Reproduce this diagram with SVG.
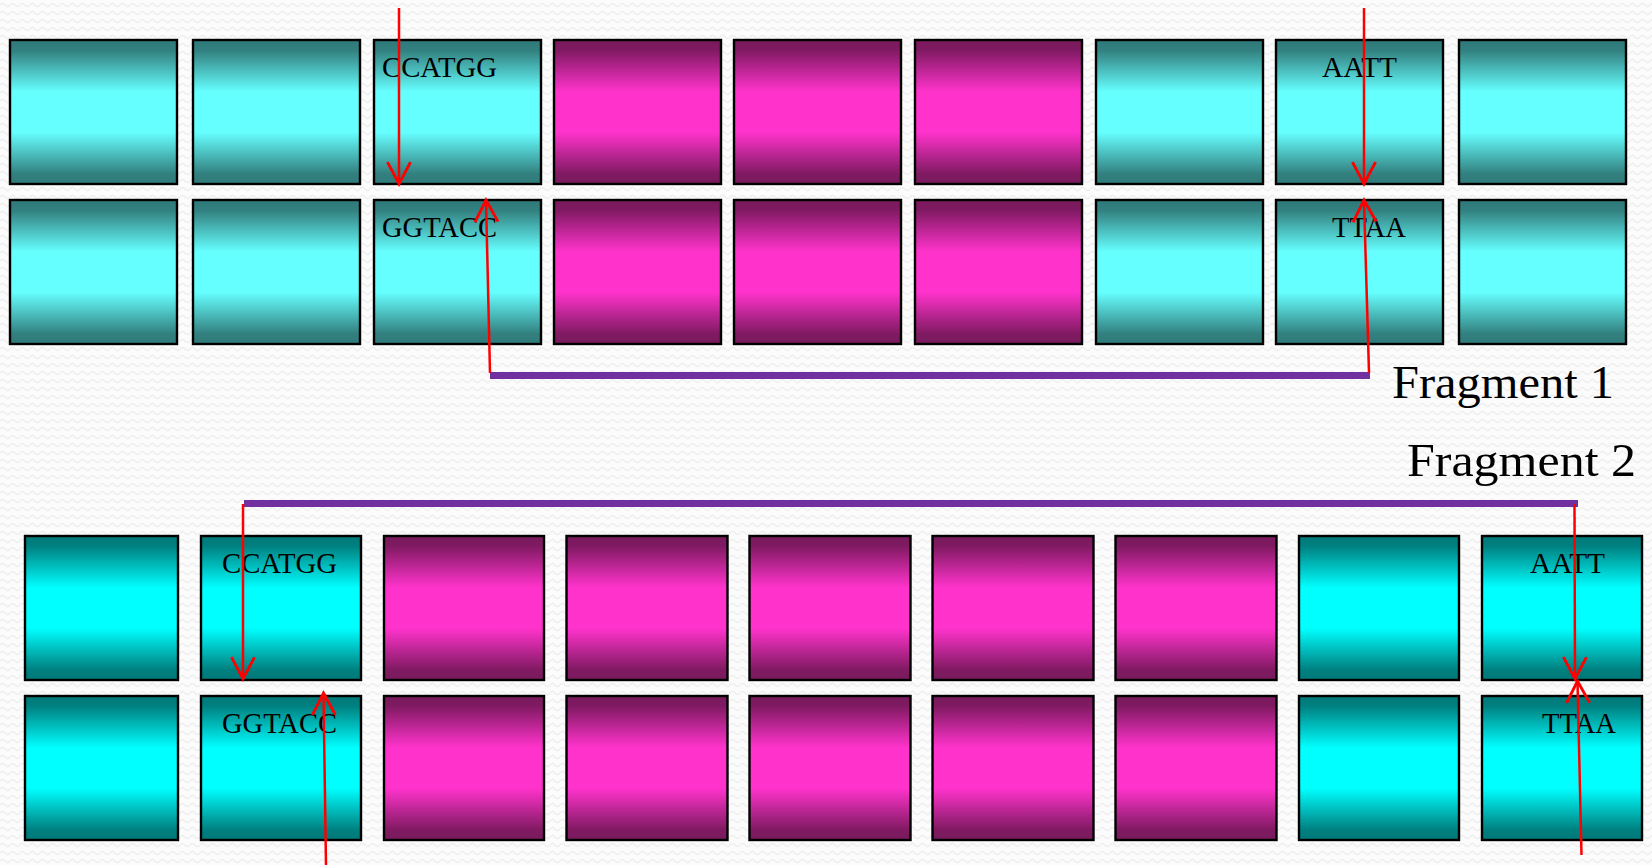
<svg xmlns="http://www.w3.org/2000/svg" width="1652" height="865" viewBox="0 0 1652 865">
<defs>
<pattern id="bgp" x="0" y="0" width="10" height="8" patternUnits="userSpaceOnUse">
<rect width="10" height="8" fill="#fcfcfc"/>
<path d="M0,5 Q2.5,2 5,5 T10,5" fill="none" stroke="#efefef" stroke-width="1.6"/>
</pattern>
<linearGradient id="gTealDark" x1="0" y1="0" x2="0" y2="1">
<stop offset="0" stop-color="#2f7a7a"/>
<stop offset="0.07" stop-color="#32807f"/>
<stop offset="0.36" stop-color="#66ffff"/>
<stop offset="0.64" stop-color="#66ffff"/>
<stop offset="0.93" stop-color="#32807f"/>
<stop offset="1" stop-color="#2f7a7a"/>
</linearGradient>
<linearGradient id="gTeal" x1="0" y1="0" x2="0" y2="1">
<stop offset="0" stop-color="#007878"/>
<stop offset="0.07" stop-color="#008080"/>
<stop offset="0.36" stop-color="#00ffff"/>
<stop offset="0.64" stop-color="#00ffff"/>
<stop offset="0.93" stop-color="#008080"/>
<stop offset="1" stop-color="#007878"/>
</linearGradient>
<linearGradient id="gMag" x1="0" y1="0" x2="0" y2="1">
<stop offset="0" stop-color="#781a5c"/>
<stop offset="0.07" stop-color="#801a62"/>
<stop offset="0.36" stop-color="#ff33cc"/>
<stop offset="0.64" stop-color="#ff33cc"/>
<stop offset="0.93" stop-color="#801a62"/>
<stop offset="1" stop-color="#781a5c"/>
</linearGradient>
<marker id="head" markerUnits="userSpaceOnUse" markerWidth="30" markerHeight="30" refX="0" refY="0" viewBox="-22 -13 26 26" orient="auto">
<path d="M-19,-10 L0,0 L-19,10" fill="none" stroke="#ff0000" stroke-width="2.5"/>
</marker>
<style>
.b{stroke:#000;stroke-width:2.4}
.td{fill:url(#gTealDark)}
.tl{fill:url(#gTeal)}
.mg{fill:url(#gMag)}
.seq{font-family:"Liberation Serif","Times New Roman",serif;font-size:29px;fill:#000}
.frag{font-family:"Liberation Serif","Times New Roman",serif;font-size:47px;fill:#000}
.arr{stroke:#ff0000;stroke-width:2.5;fill:none;marker-end:url(#head)}
.bar{fill:#7030a0}
</style>
</defs>
<rect width="1652" height="865" fill="url(#bgp)"/>

<g id="top-row1">
<rect class="b td" x="10" y="40" width="167" height="144"/>
<rect class="b td" x="193" y="40" width="167" height="144"/>
<rect class="b td" x="374" y="40" width="167" height="144"/>
<rect class="b mg" x="554" y="40" width="167" height="144"/>
<rect class="b mg" x="734" y="40" width="167" height="144"/>
<rect class="b mg" x="915" y="40" width="167" height="144"/>
<rect class="b td" x="1096" y="40" width="167" height="144"/>
<rect class="b td" x="1276" y="40" width="167" height="144"/>
<rect class="b td" x="1459" y="40" width="167" height="144"/>
<text class="seq" x="382" y="77" textLength="115" lengthAdjust="spacingAndGlyphs">CCATGG</text>
<text class="seq" x="1322" y="77" textLength="75" lengthAdjust="spacingAndGlyphs">AATT</text>
</g>

<g id="top-row2">
<rect class="b td" x="10" y="200" width="167" height="144"/>
<rect class="b td" x="193" y="200" width="167" height="144"/>
<rect class="b td" x="374" y="200" width="167" height="144"/>
<rect class="b mg" x="554" y="200" width="167" height="144"/>
<rect class="b mg" x="734" y="200" width="167" height="144"/>
<rect class="b mg" x="915" y="200" width="167" height="144"/>
<rect class="b td" x="1096" y="200" width="167" height="144"/>
<rect class="b td" x="1276" y="200" width="167" height="144"/>
<rect class="b td" x="1459" y="200" width="167" height="144"/>
<text class="seq" x="382" y="237" textLength="115" lengthAdjust="spacingAndGlyphs">GGTACC</text>
<text class="seq" x="1332" y="237" textLength="74" lengthAdjust="spacingAndGlyphs">TTAA</text>
</g>

<g id="fragment1">
<rect class="bar" x="490" y="372" width="880" height="7"/>
<text class="frag" x="1392" y="398" textLength="222" lengthAdjust="spacingAndGlyphs">Fragment 1</text>
</g>

<g id="fragment2">
<rect class="bar" x="244" y="500" width="1334" height="7"/>
<text class="frag" x="1407" y="476" textLength="229" lengthAdjust="spacingAndGlyphs">Fragment 2</text>
</g>

<g id="bottom-row1">
<rect class="b tl" x="25" y="536" width="153" height="144"/>
<rect class="b tl" x="201" y="536" width="160" height="144"/>
<rect class="b mg" x="384" y="536" width="160" height="144"/>
<rect class="b mg" x="566.5" y="536" width="161" height="144"/>
<rect class="b mg" x="749.5" y="536" width="161" height="144"/>
<rect class="b mg" x="932.5" y="536" width="161" height="144"/>
<rect class="b mg" x="1115.5" y="536" width="161" height="144"/>
<rect class="b tl" x="1299" y="536" width="160" height="144"/>
<rect class="b tl" x="1482" y="536" width="160" height="144"/>
<text class="seq" x="222" y="573" textLength="115" lengthAdjust="spacingAndGlyphs">CCATGG</text>
<text class="seq" x="1530" y="573" textLength="75" lengthAdjust="spacingAndGlyphs">AATT</text>
</g>

<g id="bottom-row2">
<rect class="b tl" x="25" y="696" width="153" height="144"/>
<rect class="b tl" x="201" y="696" width="160" height="144"/>
<rect class="b mg" x="384" y="696" width="160" height="144"/>
<rect class="b mg" x="566.5" y="696" width="161" height="144"/>
<rect class="b mg" x="749.5" y="696" width="161" height="144"/>
<rect class="b mg" x="932.5" y="696" width="161" height="144"/>
<rect class="b mg" x="1115.5" y="696" width="161" height="144"/>
<rect class="b tl" x="1299" y="696" width="160" height="144"/>
<rect class="b tl" x="1482" y="696" width="160" height="144"/>
<text class="seq" x="222" y="733" textLength="115" lengthAdjust="spacingAndGlyphs">GGTACC</text>
<text class="seq" x="1542" y="733" textLength="74" lengthAdjust="spacingAndGlyphs">TTAA</text>
</g>

<g id="connectors">
<line class="arr" x1="399" y1="8" x2="399" y2="184"/>
<line class="arr" x1="490" y1="373" x2="486" y2="200"/>
<line class="arr" x1="1364" y1="8" x2="1364" y2="184"/>
<line class="arr" x1="1369" y1="373" x2="1364" y2="200"/>
<line class="arr" x1="243" y1="504" x2="243" y2="679"/>
<line class="arr" x1="326" y1="866" x2="323.5" y2="693"/>
<line class="arr" x1="1574.5" y1="504" x2="1575" y2="679"/>
<line class="arr" x1="1581.5" y1="855" x2="1577.5" y2="681"/>
</g>
</svg>
